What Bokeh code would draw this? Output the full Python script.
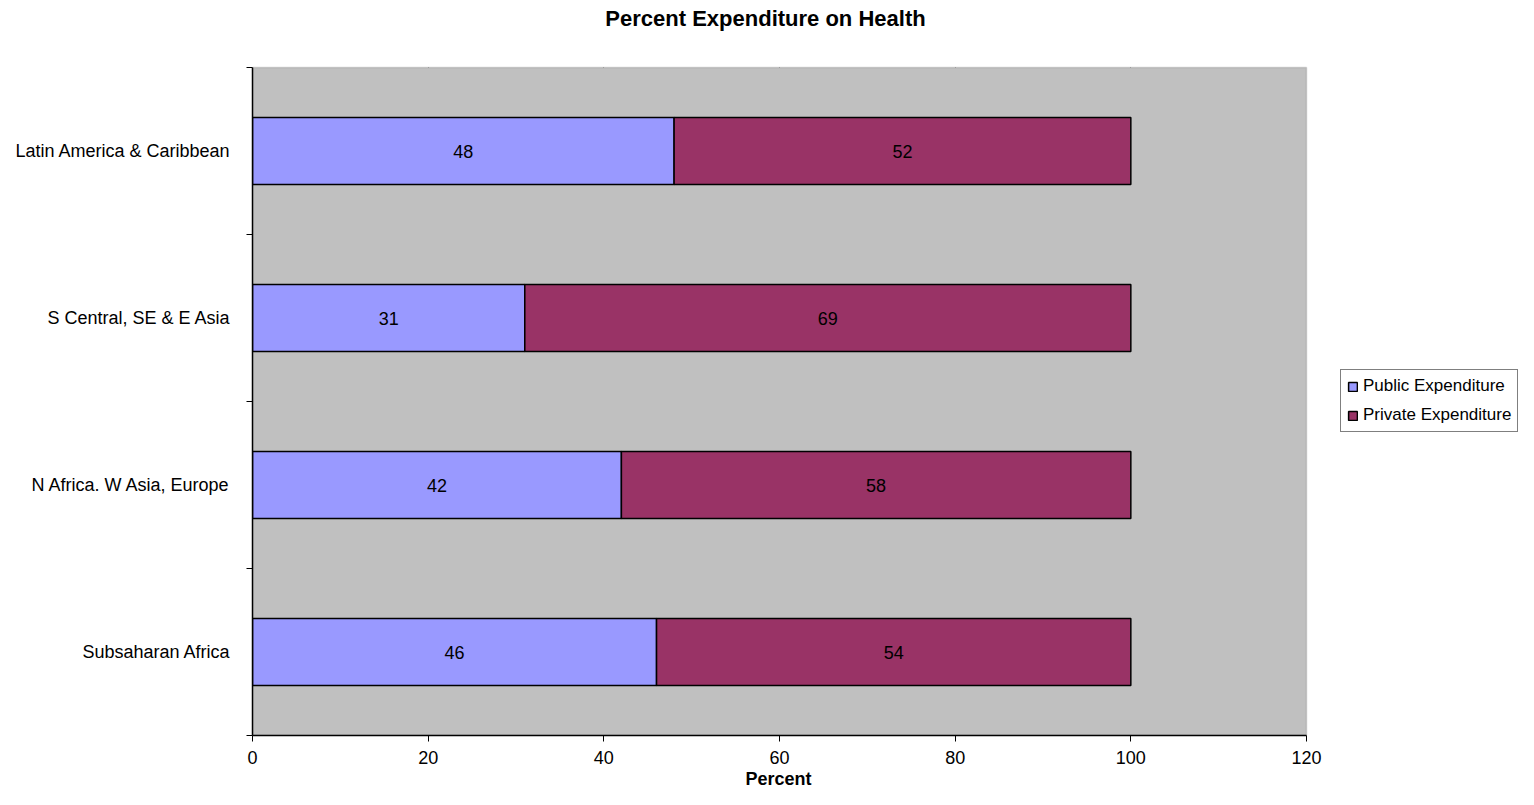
from bokeh.plotting import figure
from bokeh.models import (Range1d, FixedTicker, Legend, LegendItem, ColumnDataSource,
                          BoxAnnotation, Label, Title)
from bokeh.core.properties import value
from bokeh.embed import file_html
from bokeh.resources import INLINE

# ---- data ----
categories = ["Latin America & Caribbean", "S Central, SE & E Asia",
              "N Africa. W Asia, Europe", "Subsaharan Africa"]
public = [48, 31, 42, 46]
private = [52, 69, 58, 54]
x_ticks = [0, 20, 40, 60, 80, 100, 120]
title_text = "Percent Expenditure on Health"
x_label = "Percent"
series_names = ["Public Expenditure", "Private Expenditure"]

FONT = "Liberation Sans"
FS = "18px"
n = len(categories)
XMAX = x_ticks[-1]

# layout (pixels): canvas, plot-area box
W, H = 1518, 789
LEFT, TOP, PLOT_W, PLOT_H = 252, 67, 1054, 668
BOTTOM = H - TOP - PLOT_H

ypos = [n - 1 - i + 0.5 for i in range(n)]
totals = [a + b for a, b in zip(public, private)]

src = ColumnDataSource(dict(
    y=ypos, public=public, private=private, total=totals,
    zero=[0] * n,
    pub_mid=[v / 2 for v in public],
    priv_mid=[a + b / 2 for a, b in zip(public, private)],
    pub_lbl=[str(v) for v in public],
    priv_lbl=[str(v) for v in private],
))

# the frame extends to the right and top edges of the canvas so that the
# legend and the title can live inside it; the data area is 0..XMAX x 0..n
frame_w = W - LEFT
frame_h = H - BOTTOM
x_end = XMAX * frame_w / PLOT_W
y_end = n * frame_h / PLOT_H

p = figure(width=W, height=H, output_backend="svg", toolbar_location=None,
           title=None,
           x_range=Range1d(0, x_end), y_range=Range1d(0, y_end),
           min_border_left=LEFT, min_border_right=0, min_border_top=0,
           min_border_bottom=BOTTOM)

p.background_fill_color = "white"
p.border_fill_color = "white"
p.outline_line_color = None

# plot area
p.add_layout(BoxAnnotation(left=0, right=XMAX, bottom=0, top=n,
                           fill_color="#C0C0C0", fill_alpha=1,
                           line_color="#808080", line_width=1.5,
                           level="underlay"))

# title
p.add_layout(Label(x=765 - LEFT, y=frame_h - 18, x_units="screen", y_units="screen",
                   text=title_text, text_align="center", text_baseline="middle",
                   text_font=FONT, text_font_size="22px", text_font_style="bold",
                   text_color="black"))

# x axis
xa = p.xaxis[0]
xa.bounds = (0, XMAX)
xa.ticker = FixedTicker(ticks=x_ticks)
xa.axis_label = None
xa.major_label_text_font = FONT
xa.major_label_text_font_size = FS
xa.major_label_text_color = "black"
xa.major_label_standoff = 9
xa.major_tick_in = 0
xa.major_tick_out = 6
xa.major_tick_line_color = "black"
xa.minor_tick_line_color = None
xa.axis_line_color = "black"
xa.axis_line_width = 1.5

# x-axis title, centred under the plot area
p.add_layout(Title(text=x_label, align="left", offset=(PLOT_W / 2) - 34,
                   text_font=FONT, text_font_size=FS, text_font_style="bold",
                   text_color="black", standoff=0), "below")

# y axis
ya = p.yaxis[0]
ya.bounds = (0, n)
ya.ticker = FixedTicker(ticks=ypos, minor_ticks=list(range(n + 1)))
ya.major_label_overrides = {y: c for y, c in zip(ypos, categories)}
ya.major_label_text_font = FONT
ya.major_label_text_font_size = FS
ya.major_label_text_color = "black"
ya.major_label_standoff = 16
ya.major_tick_line_color = None
ya.major_tick_in = 0
ya.major_tick_out = 0
ya.minor_tick_in = 0
ya.minor_tick_out = 6
ya.minor_tick_line_color = "black"
ya.axis_line_color = "black"
ya.axis_line_width = 1.5

# grid: vertical lines only, within the plot area
p.ygrid.grid_line_color = None
xg = p.xgrid[0]
if "cross_bounds" in xg.properties():
    xg.ticker = FixedTicker(ticks=x_ticks[1:-1])
    xg.cross_bounds = (0, n)
    xg.grid_line_color = "#2b2b2b"
    xg.grid_line_width = 1
else:
    xg.grid_line_color = None
    gx = x_ticks[1:-1]
    p.segment(x0=gx, x1=gx, y0=[0] * len(gx), y1=[n] * len(gx),
              line_color="#2b2b2b", line_width=1, level="underlay")

# bars
r1 = p.hbar(y="y", left="zero", right="public", height=0.4, source=src,
            fill_color="#9999FF", line_color="black", line_width=1.5)
r2 = p.hbar(y="y", left="public", right="total", height=0.4, source=src,
            fill_color="#993366", line_color="black", line_width=1.5)

# data labels
for xcol, tcol in (("pub_mid", "pub_lbl"), ("priv_mid", "priv_lbl")):
    p.text(x=xcol, y="y", text=tcol, source=src, text_align="center",
           text_baseline="middle", text_font=value(FONT), text_font_size=FS,
           text_color="black")

# legend
legend = Legend(items=[LegendItem(label=series_names[0], renderers=[r1]),
                       LegendItem(label=series_names[1], renderers=[r2])],
                location=(1340 - LEFT, (TOP + PLOT_H) - 432))
legend.label_text_font = FONT
legend.label_text_font_size = "17px"
legend.label_text_color = "black"
legend.glyph_width = 11
legend.glyph_height = 11
legend.label_height = 20
legend.label_standoff = 5
legend.spacing = 9
legend.padding = 6
legend.margin = 0
legend.border_line_color = "black"
legend.border_line_width = 1
legend.background_fill_color = "white"
legend.background_fill_alpha = 1
p.add_layout(legend, "center")

open("out.html", "w").write(file_html(p, INLINE))
